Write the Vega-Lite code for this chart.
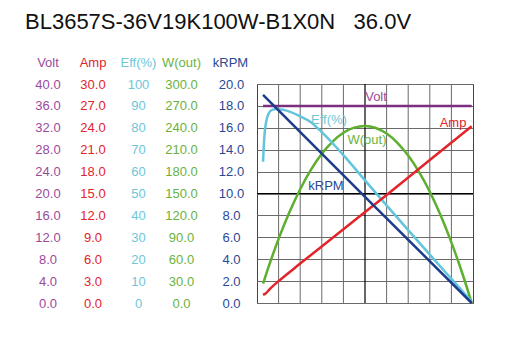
{
  "$schema": "https://vega.github.io/schema/vega-lite/v6.json",
  "autosize": {"type": "none"},
  "padding": {"left": 257, "top": 84, "right": 43, "bottom": 52},
  "width": 216,
  "height": 219,
  "background": "white",
  "config": {
    "font": "Liberation Sans",
    "view": {"stroke": "#444", "strokeWidth": 1},
    "text": {"font": "Liberation Sans", "fontSize": 13}
  },
  "title": {
    "text": "BL3657S-36V19K100W-B1X0N\u00a0\u00a0\u00a036.0V",
    "anchor": "start",
    "frame": "group",
    "dx": -232,
    "offset": 22,
    "fontSize": 22,
    "fontWeight": "normal",
    "font": "Liberation Sans",
    "color": "#111"
  },
  "datasets": {
    "curves": [
      {"series": "Volt", "torque": 0.14, "value": 36},
      {"series": "Volt", "torque": 4.97, "value": 36},
      {"series": "kRPM", "torque": 0.14, "value": 19.0},
      {"series": "kRPM", "torque": 2.5, "value": 9.7},
      {"series": "kRPM", "torque": 4.97, "value": 0},
      {"series": "Amp", "torque": 0.14, "value": 1.1},
      {"series": "Amp", "torque": 0.2, "value": 1.3},
      {"series": "Amp", "torque": 0.3, "value": 1.95},
      {"series": "Amp", "torque": 0.5, "value": 3.0},
      {"series": "Amp", "torque": 1.0, "value": 5.4},
      {"series": "Amp", "torque": 2.0, "value": 10.1},
      {"series": "Amp", "torque": 3.0, "value": 14.8},
      {"series": "Amp", "torque": 4.0, "value": 19.6},
      {"series": "Amp", "torque": 4.97, "value": 24.2},
      {"series": "Eff", "torque": 0.14, "value": 64.5},
      {"series": "Eff", "torque": 0.17, "value": 76},
      {"series": "Eff", "torque": 0.21, "value": 82.5},
      {"series": "Eff", "torque": 0.27, "value": 86.5},
      {"series": "Eff", "torque": 0.35, "value": 88.2},
      {"series": "Eff", "torque": 0.45, "value": 88.6},
      {"series": "Eff", "torque": 0.6, "value": 88.2},
      {"series": "Eff", "torque": 0.77, "value": 87.3},
      {"series": "Eff", "torque": 1.0, "value": 85.2},
      {"series": "Eff", "torque": 1.23, "value": 82.8},
      {"series": "Eff", "torque": 1.5, "value": 78.0},
      {"series": "Eff", "torque": 2.0, "value": 67.5},
      {"series": "Eff", "torque": 2.5, "value": 56.0},
      {"series": "Eff", "torque": 3.0, "value": 44.6},
      {"series": "Eff", "torque": 3.5, "value": 33.3},
      {"series": "Eff", "torque": 4.0, "value": 22.1},
      {"series": "Eff", "torque": 4.5, "value": 11.0},
      {"series": "Eff", "torque": 4.97, "value": 0.6},
      {"series": "Wout", "torque": 0.14, "value": 26.6},
      {"series": "Wout", "torque": 0.25, "value": 46.3},
      {"series": "Wout", "torque": 0.5, "value": 87.8},
      {"series": "Wout", "torque": 0.75, "value": 124.3},
      {"series": "Wout", "torque": 1.0, "value": 155.9},
      {"series": "Wout", "torque": 1.25, "value": 182.6},
      {"series": "Wout", "torque": 1.5, "value": 204.4},
      {"series": "Wout", "torque": 1.75, "value": 221.2},
      {"series": "Wout", "torque": 2.0, "value": 233.2},
      {"series": "Wout", "torque": 2.25, "value": 240.3},
      {"series": "Wout", "torque": 2.5, "value": 242.5},
      {"series": "Wout", "torque": 2.75, "value": 239.7},
      {"series": "Wout", "torque": 3.0, "value": 232.1},
      {"series": "Wout", "torque": 3.25, "value": 219.5},
      {"series": "Wout", "torque": 3.5, "value": 202.0},
      {"series": "Wout", "torque": 3.75, "value": 179.6},
      {"series": "Wout", "torque": 4.0, "value": 152.4},
      {"series": "Wout", "torque": 4.25, "value": 120.2},
      {"series": "Wout", "torque": 4.5, "value": 83.1},
      {"series": "Wout", "torque": 4.75, "value": 41.1},
      {"series": "Wout", "torque": 4.97, "value": 0}
    ],
    "labels": [
      {"series": "Volt", "torque": 2.755, "value": 37.6, "text": "Volt"},
      {"series": "Amp", "torque": 4.537, "value": 24.7, "text": "Amp"},
      {"series": "Eff", "torque": 1.667, "value": 83.6, "text": "Eff(%)"},
      {"series": "Wout", "torque": 2.546, "value": 223.3, "text": "W(out)"},
      {"series": "kRPM", "torque": 1.597, "value": 10.7, "text": "kRPM"}
    ],
    "xgrid": [
      {"torque": 0.5}, {"torque": 1.0}, {"torque": 1.5}, {"torque": 2.0},
      {"torque": 3.0}, {"torque": 3.5}, {"torque": 4.0}, {"torque": 4.5}
    ]
  },
  "layer": [
    {
      "data": {"name": "labels"},
      "transform": [{"filter": "datum.series === 'kRPM'"}],
      "mark": {"type": "text", "color": "#2a4896", "fontSize": 13},
      "encoding": {
        "text": {"field": "text"},
        "x": {"field": "torque", "type": "quantitative", "scale": {"domain": [0, 5], "nice": false},
          "axis": {
            "values": [0, 0.5, 1, 1.5, 2, 2.5, 3, 3.5, 4, 4.5, 5],
            "labelExpr": "datum.value === 2 ? '2.00' : (datum.value % 1 === 0 ? format(datum.value, '.3f') : '')",
            "grid": true, "gridColor": "#6a6a6a", "gridOpacity": 1, "gridWidth": 1,
            "domain": false, "ticks": false, "tickSize": 0,
            "labelPadding": 6, "labelFontSize": 13, "labelColor": "#111", "labelFlush": false,
            "title": "Kg-cm", "titleFontSize": 13, "titleFontWeight": "normal", "titleColor": "#111",
            "titlePadding": 2, "titleX": 116, "titleAlign": "center"
          }},
        "y": {"field": "value", "type": "quantitative", "scale": {"domain": [0, 20], "nice": false},
          "axis": {
            "orient": "left", "values": [0, 2, 4, 6, 8, 10, 12, 14, 16, 18, 20], "format": ".1f",
            "grid": true, "gridColor": "#6a6a6a", "gridOpacity": 1, "gridWidth": 1,
            "domain": false, "ticks": false, "tickSize": 0,
            "labelAlign": "center", "labelBaseline": "middle", "labelPadding": 26,
            "labelColor": "#2a4896", "labelFontSize": 13,
            "title": "kRPM", "titleAngle": 0, "titleX": -27, "titleY": -22,
            "titleAlign": "center", "titleBaseline": "middle",
            "titleColor": "#2a4896", "titleFontSize": 13, "titleFontWeight": "normal"
          }}
      }
    },
    {
      "data": {"name": "xgrid"},
      "mark": {"type": "rule", "color": "#6a6a6a", "strokeWidth": 1},
      "encoding": {"x": {"field": "torque", "type": "quantitative", "axis": null}}
    },
    {
      "data": {"values": [{}]},
      "mark": {"type": "rule", "color": "#000", "strokeWidth": 1.2},
      "encoding": {"x": {"datum": 2.5, "type": "quantitative", "axis": null}}
    },
    {
      "data": {"values": [{}]},
      "mark": {"type": "rule", "color": "#000", "strokeWidth": 1.2},
      "encoding": {"y": {"datum": 10, "type": "quantitative", "scale": {"domain": [0, 20], "nice": false}, "axis": null}}
    },
    {
      "data": {"name": "curves"}, "transform": [{"filter": "datum.series === 'Volt'"}],
      "mark": {"type": "line", "color": "#7d2d7f", "strokeWidth": 2.5},
      "encoding": {
        "x": {"field": "torque", "type": "quantitative", "axis": null},
        "y": {"field": "value", "type": "quantitative", "scale": {"domain": [0, 40], "nice": false},
          "axis": {
            "orient": "left", "values": [0, 4, 8, 12, 16, 20, 24, 28, 32, 36, 40], "format": ".1f",
            "grid": false, "domain": false, "ticks": false, "tickSize": 0,
            "labelAlign": "center", "labelBaseline": "middle", "labelPadding": 209.5,
            "labelColor": "#9c4a9c", "labelFontSize": 13,
            "title": "Volt", "titleAngle": 0, "titleX": -209.5, "titleY": -22,
            "titleAlign": "center", "titleBaseline": "middle",
            "titleColor": "#9c4a9c", "titleFontSize": 13, "titleFontWeight": "normal"
          }}
      }
    },
    {
      "data": {"name": "labels"}, "transform": [{"filter": "datum.series === 'Volt'"}],
      "mark": {"type": "text", "color": "#9c4a9c", "fontSize": 13},
      "encoding": {
        "text": {"field": "text"},
        "x": {"field": "torque", "type": "quantitative", "axis": null},
        "y": {"field": "value", "type": "quantitative", "scale": {"domain": [0, 40], "nice": false}, "axis": null}
      }
    },
    {
      "data": {"name": "curves"}, "transform": [{"filter": "datum.series === 'Wout'"}],
      "mark": {"type": "line", "color": "#5caf2f", "strokeWidth": 2.5, "interpolate": "monotone"},
      "encoding": {
        "x": {"field": "torque", "type": "quantitative", "axis": null},
        "y": {"field": "value", "type": "quantitative", "scale": {"domain": [0, 300], "nice": false},
          "axis": {
            "orient": "left", "values": [0, 30, 60, 90, 120, 150, 180, 210, 240, 270, 300], "format": ".1f",
            "grid": false, "domain": false, "ticks": false, "tickSize": 0,
            "labelAlign": "center", "labelBaseline": "middle", "labelPadding": 76,
            "labelColor": "#6ab23e", "labelFontSize": 13,
            "title": "W(out)", "titleAngle": 0, "titleX": -76, "titleY": -22,
            "titleAlign": "center", "titleBaseline": "middle",
            "titleColor": "#6ab23e", "titleFontSize": 13, "titleFontWeight": "normal"
          }}
      }
    },
    {
      "data": {"name": "labels"}, "transform": [{"filter": "datum.series === 'Wout'"}],
      "mark": {"type": "text", "color": "#6ab23e", "fontSize": 13},
      "encoding": {
        "text": {"field": "text"},
        "x": {"field": "torque", "type": "quantitative", "axis": null},
        "y": {"field": "value", "type": "quantitative", "scale": {"domain": [0, 300], "nice": false}, "axis": null}
      }
    },
    {
      "data": {"name": "curves"}, "transform": [{"filter": "datum.series === 'Eff'"}],
      "mark": {"type": "line", "color": "#62c5dc", "strokeWidth": 2.5, "interpolate": "monotone"},
      "encoding": {
        "x": {"field": "torque", "type": "quantitative", "axis": null},
        "y": {"field": "value", "type": "quantitative", "scale": {"domain": [0, 100], "nice": false},
          "axis": {
            "orient": "left", "values": [0, 10, 20, 30, 40, 50, 60, 70, 80, 90, 100], "format": "d",
            "grid": false, "domain": false, "ticks": false, "tickSize": 0,
            "labelAlign": "center", "labelBaseline": "middle", "labelPadding": 119,
            "labelColor": "#6ec6d8", "labelFontSize": 13,
            "title": "Eff(%)", "titleAngle": 0, "titleX": -119, "titleY": -22,
            "titleAlign": "center", "titleBaseline": "middle",
            "titleColor": "#6ec6d8", "titleFontSize": 13, "titleFontWeight": "normal"
          }}
      }
    },
    {
      "data": {"name": "labels"}, "transform": [{"filter": "datum.series === 'Eff'"}],
      "mark": {"type": "text", "color": "#6ec6d8", "fontSize": 13},
      "encoding": {
        "text": {"field": "text"},
        "x": {"field": "torque", "type": "quantitative", "axis": null},
        "y": {"field": "value", "type": "quantitative", "scale": {"domain": [0, 100], "nice": false}, "axis": null}
      }
    },
    {
      "data": {"name": "curves"}, "transform": [{"filter": "datum.series === 'Amp'"}],
      "mark": {"type": "line", "color": "#e3242b", "strokeWidth": 2.5, "interpolate": "monotone"},
      "encoding": {
        "x": {"field": "torque", "type": "quantitative", "axis": null},
        "y": {"field": "value", "type": "quantitative", "scale": {"domain": [0, 30], "nice": false},
          "axis": {
            "orient": "left", "values": [0, 3, 6, 9, 12, 15, 18, 21, 24, 27, 30], "format": ".1f",
            "grid": false, "domain": false, "ticks": false, "tickSize": 0,
            "labelAlign": "center", "labelBaseline": "middle", "labelPadding": 164.5,
            "labelColor": "#e3242b", "labelFontSize": 13,
            "title": "Amp", "titleAngle": 0, "titleX": -164.5, "titleY": -22,
            "titleAlign": "center", "titleBaseline": "middle",
            "titleColor": "#e3242b", "titleFontSize": 13, "titleFontWeight": "normal"
          }}
      }
    },
    {
      "data": {"name": "labels"}, "transform": [{"filter": "datum.series === 'Amp'"}],
      "mark": {"type": "text", "color": "#e3242b", "fontSize": 13},
      "encoding": {
        "text": {"field": "text"},
        "x": {"field": "torque", "type": "quantitative", "axis": null},
        "y": {"field": "value", "type": "quantitative", "scale": {"domain": [0, 30], "nice": false}, "axis": null}
      }
    },
    {
      "data": {"name": "curves"}, "transform": [{"filter": "datum.series === 'kRPM'"}],
      "mark": {"type": "line", "color": "#1e3c8c", "strokeWidth": 2.5},
      "encoding": {
        "x": {"field": "torque", "type": "quantitative", "axis": null},
        "y": {"field": "value", "type": "quantitative", "scale": {"domain": [0, 20], "nice": false}, "axis": null}
      }
    }
  ],
  "resolve": {"scale": {"y": "independent"}, "axis": {"y": "independent"}}
}
